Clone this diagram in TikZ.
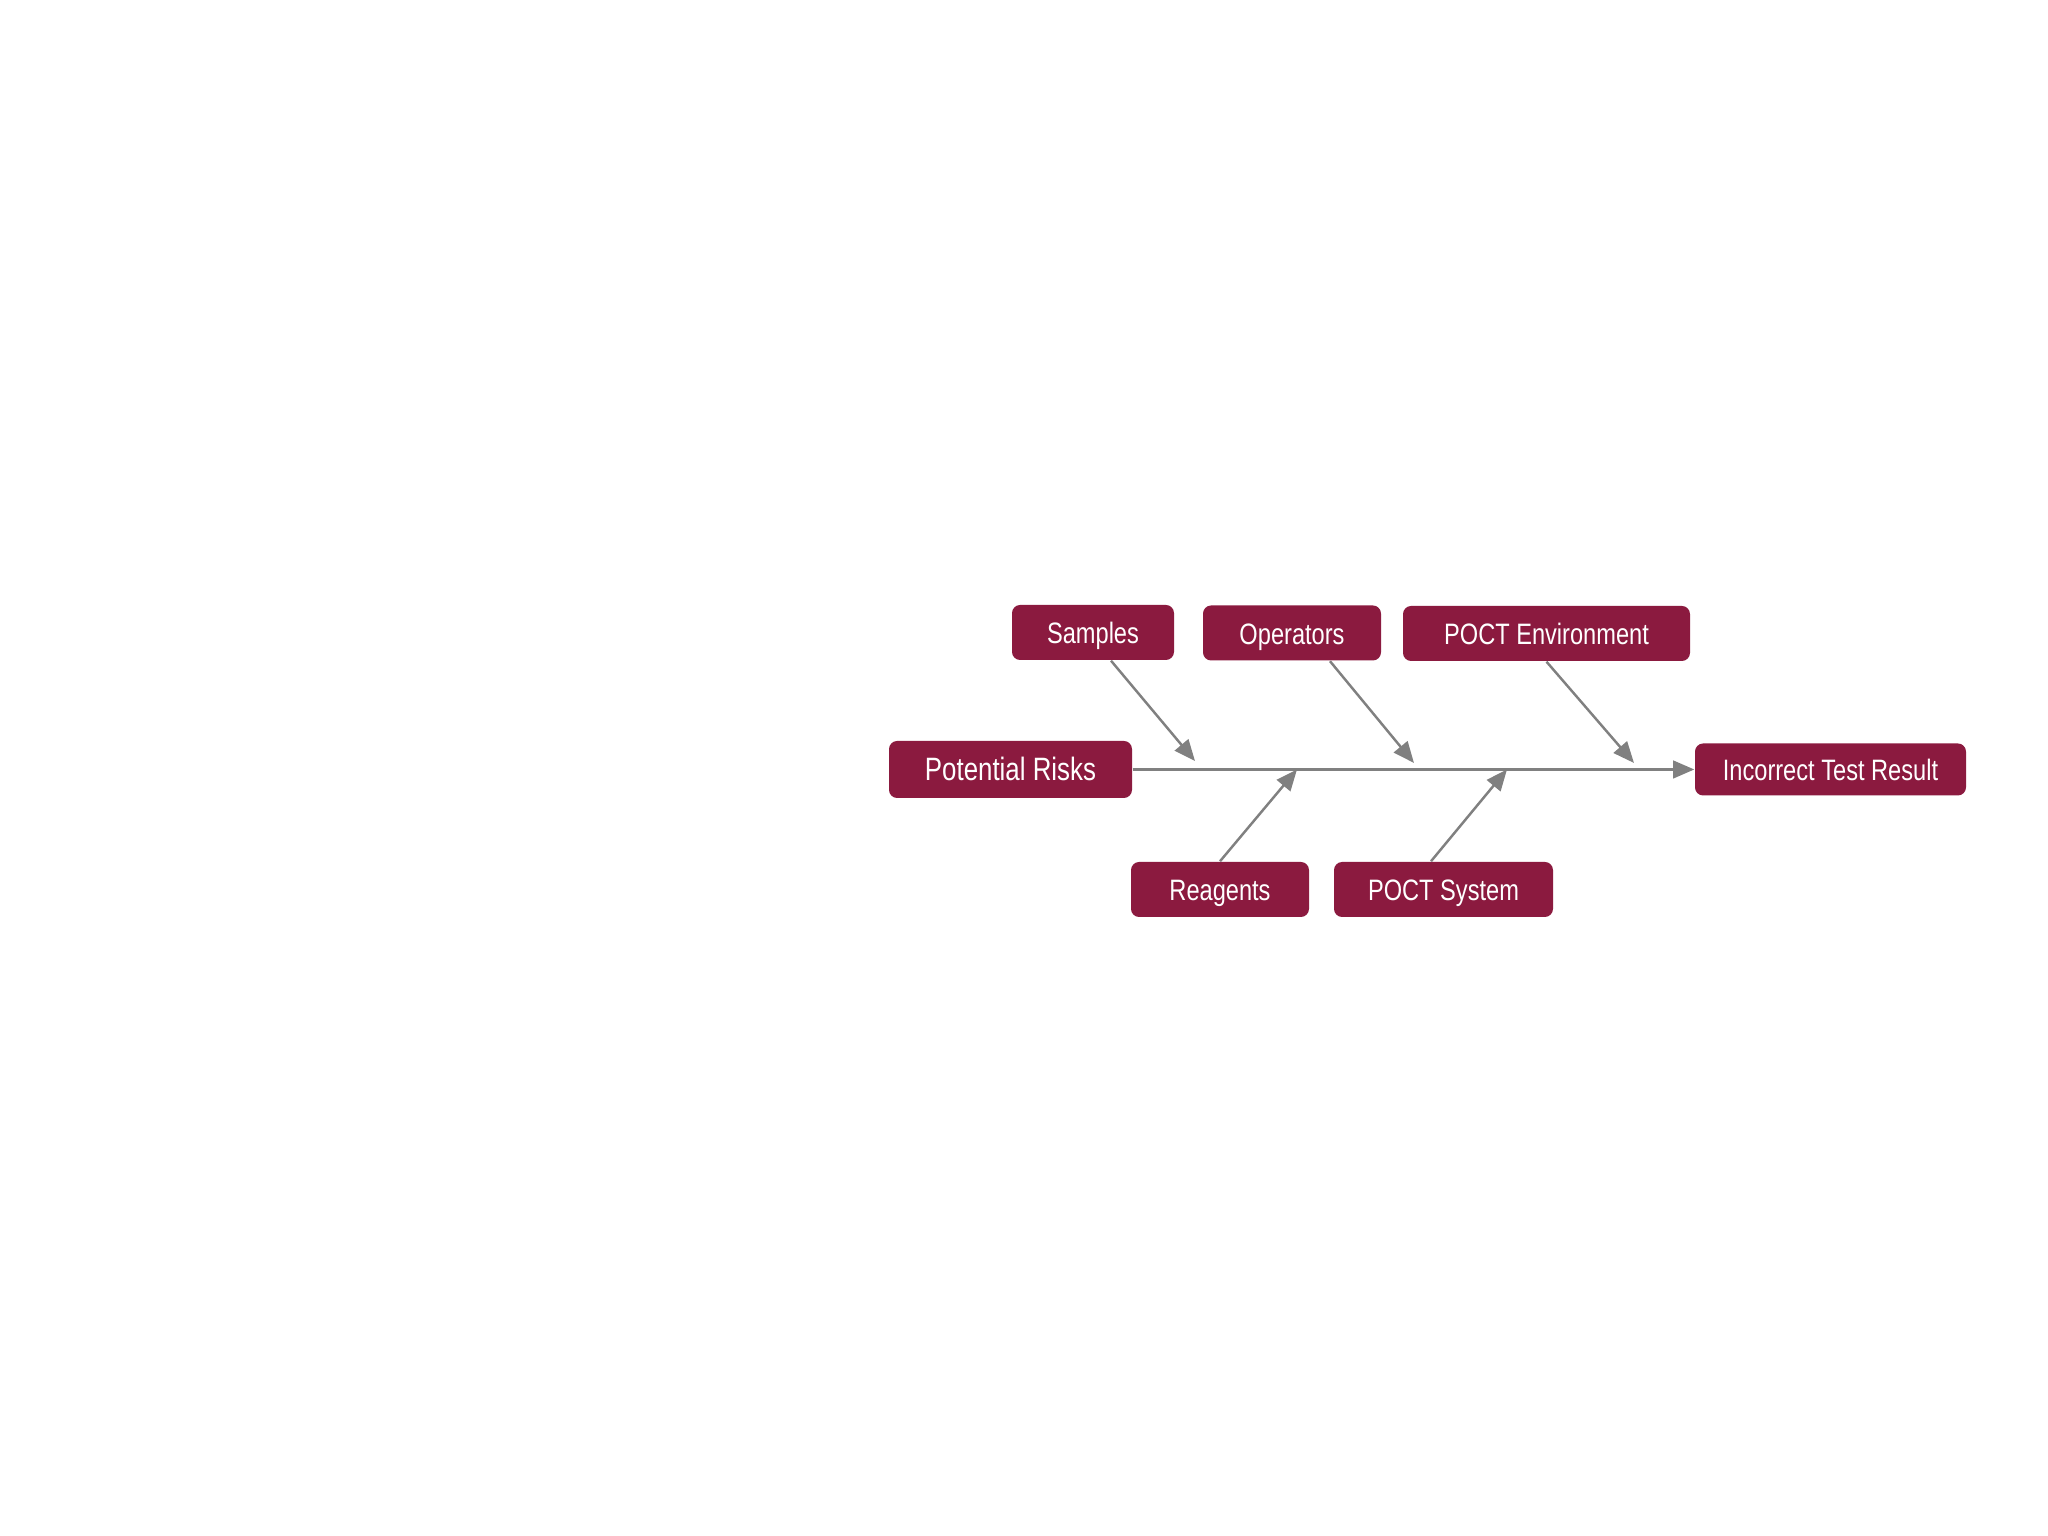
\documentclass[tikz,border=0pt]{standalone}
\usepackage{fontspec}
\setmainfont[FakeStretch=0.8]{Liberation Sans}
\usetikzlibrary{arrows.meta}
\definecolor{maroon}{HTML}{8B1A3F}
\definecolor{spinegray}{HTML}{808080}
\begin{document}
\begin{tikzpicture}
    [font=\fontsize{8.4}{10}\selectfont,
    box/.style={shape=rectangle,rounded corners=2.3pt,fill=maroon,text=white,minimum height=0.55cm,inner sep=0pt,text height=0.76em,text depth=0.11em},
    bigbox/.style={box,minimum height=0.57cm,font=\fontsize{9.2}{11}\selectfont},
    arc/.style={-{Triangle[length=6pt,width=5pt]},draw=spinegray,line width=0.7pt}]

    \useasboundingbox (0,0) rectangle (20.48,15.36);

    \node (risks) [bigbox,minimum width=2.43cm] at (10.105,7.665) {Potential Risks};
    \node (result) [box,minimum width=2.71cm,minimum height=0.52cm] at (18.305,7.665) {Incorrect Test Result};
    \node (samp) [box,minimum width=1.62cm] at (10.93,9.035) {Samples};
    \node (oper) [box,minimum width=1.78cm] at (12.92,9.03) {Operators};
    \node (env) [box,minimum width=2.87cm] at (15.465,9.025) {POCT Environment};
    \node (reag) [box,minimum width=1.78cm] at (12.20,6.465) {Reagents};
    \node (sys) [box,minimum width=2.19cm] at (14.435,6.465) {POCT System};

    % points on the spine
    \coordinate (s1) at (11.95,7.75);
    \coordinate (s2) at (14.14,7.73);
    \coordinate (s3) at (16.34,7.73);
    \coordinate (r1) at (12.97,7.665);
    \coordinate (r2) at (15.07,7.665);

    \draw [arc] (risks) -- (result);
    \draw [arc] ([xshift=1.8mm]samp.south) -- (s1);
    \draw [arc] ([xshift=3.8mm]oper.south) -- (s2);
    \draw [arc] (env.south) -- (s3);
    \draw [arc] (reag.north) -- (r1);
    \draw [arc] ([xshift=-1.25mm]sys.north) -- (r2);

\end{tikzpicture}
\end{document}
